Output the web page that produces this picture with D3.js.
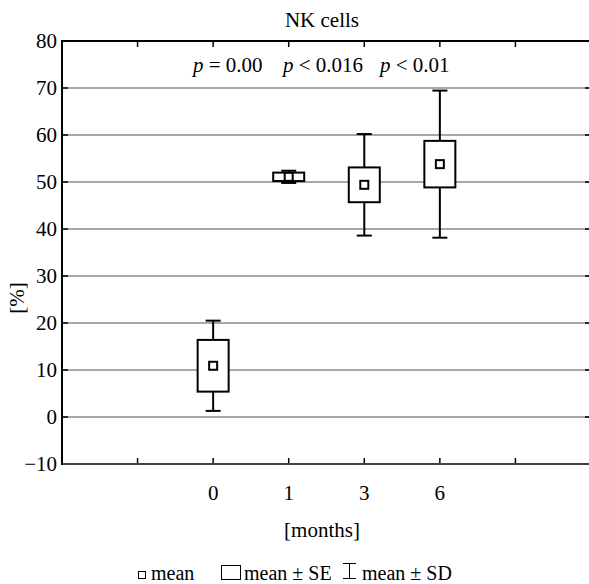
<!DOCTYPE html>
<html>
<head>
  <meta charset="UTF-8">
  <script src="https://d3js.org/d3.v7.min.js"></script>
  <style>
    body { margin: 0; background: #fff; }
    svg text { font-family: "Liberation Serif", "DejaVu Serif", serif; fill: #000; }
  </style>
</head>
<body>
  <svg id="chart" width="589" height="584"></svg>
<script>
  // data
  const months = ['0', '1', '3', '6'];
  const means = [10.9, 51.1, 49.4, 53.8];
  const se = [5.5, 0.9, 3.7, 4.95];
  const sd = [9.6, 1.3, 10.8, 15.65];
  const yTicks = [-10, 0, 10, 20, 30, 40, 50, 60, 70, 80];
  const pLabels = [
    { p: 'p', rest: ' = 0.00', x: 193 },
    { p: 'p', rest: ' < 0.016', x: 283 },
    { p: 'p', rest: ' < 0.01', x: 380 }
  ];

  const margin = { top: 41, right: -2, bottom: 120, left: 62 };
  const W = 589, H = 584;
  const fs = 21;

  const svg = d3.select('#chart');

  // x is a slot index: 7 slots, ticks at 1..6, boxes at 2..5
  const x = d3.scaleLinear().domain([0, 7]).range([margin.left, W - margin.right]);
  const y = d3.scaleLinear().domain([-10, 80]).range([H - margin.bottom, margin.top]);
  const slot = i => x(i + 2);

  // grid lines
  svg.append('g')
    .selectAll('line')
    .data(yTicks.filter(d => d > -10 && d < 80))
    .join('line')
    .attr('x1', x(0)).attr('x2', x(7))
    .attr('y1', d => y(d)).attr('y2', d => y(d))
    .attr('stroke', '#8a8a8a').attr('stroke-width', 1.3);

  // left/right tick marks
  const tickG = svg.append('g').attr('stroke', '#000').attr('stroke-width', 1.5);
  yTicks.forEach(t => {
    tickG.append('line').attr('x1', x(0)).attr('x2', x(0) + 6).attr('y1', y(t)).attr('y2', y(t));
    tickG.append('line').attr('x1', x(7) - 6).attr('x2', x(7)).attr('y1', y(t)).attr('y2', y(t));
  });
  // top / bottom tick marks
  d3.range(1, 7).forEach(i => {
    tickG.append('line').attr('x1', x(i)).attr('x2', x(i)).attr('y1', y(80)).attr('y2', y(80) + 6);
    tickG.append('line').attr('x1', x(i)).attr('x2', x(i)).attr('y1', y(-10)).attr('y2', y(-10) - 6);
  });

  // frame
  svg.append('line').attr('x1', x(0)).attr('x2', x(7)).attr('y1', y(80)).attr('y2', y(80))
    .attr('stroke', '#000').attr('stroke-width', 2);
  svg.append('line').attr('x1', x(0)).attr('x2', x(7)).attr('y1', y(-10)).attr('y2', y(-10))
    .attr('stroke', '#444').attr('stroke-width', 2.2);
  svg.append('line').attr('x1', x(0)).attr('x2', x(0)).attr('y1', y(80) - 1).attr('y2', y(-10) + 1)
    .attr('stroke', '#000').attr('stroke-width', 2);

  // y labels
  svg.append('g')
    .selectAll('text')
    .data(yTicks)
    .join('text')
    .attr('x', x(0) - 5)
    .attr('y', d => y(d))
    .attr('dy', '0.33em')
    .attr('text-anchor', 'end')
    .attr('font-size', fs)
    .text(d => d < 0 ? '\u2212' + Math.abs(d) : d);

  // x labels
  svg.append('g')
    .selectAll('text')
    .data(months)
    .join('text')
    .attr('x', (d, i) => slot(i))
    .attr('y', 500)
    .attr('text-anchor', 'middle')
    .attr('font-size', fs)
    .text(d => d);

  // titles
  svg.append('text').attr('x', 322).attr('y', 27).attr('text-anchor', 'middle')
    .attr('font-size', fs).text('NK cells');
  svg.append('text').attr('x', 322).attr('y', 537).attr('text-anchor', 'middle')
    .attr('font-size', fs).text('[months]');
  svg.append('text')
    .attr('transform', 'translate(24, 298) rotate(-90)')
    .attr('text-anchor', 'middle')
    .attr('font-size', fs).text('[%]');

  // p values
  const pt = svg.append('g').selectAll('text').data(pLabels).join('text')
    .attr('x', d => d.x).attr('y', 72).attr('font-size', fs);
  pt.append('tspan').attr('font-style', 'italic').text(d => d.p);
  pt.append('tspan').text(d => d.rest);

  // boxes
  const boxW = 31, capW = 15, meanS = 8;
  const g = svg.append('g').attr('stroke', '#000').attr('stroke-width', 2).attr('fill', '#fff');
  months.forEach((m, i) => {
    const cx = slot(i);
    // whiskers
    g.append('line').attr('x1', cx).attr('x2', cx)
      .attr('y1', y(means[i] + sd[i])).attr('y2', y(means[i] - sd[i]));
    g.append('line').attr('x1', cx - capW / 2).attr('x2', cx + capW / 2)
      .attr('y1', y(means[i] + sd[i])).attr('y2', y(means[i] + sd[i]));
    g.append('line').attr('x1', cx - capW / 2).attr('x2', cx + capW / 2)
      .attr('y1', y(means[i] - sd[i])).attr('y2', y(means[i] - sd[i]));
    // SE box
    g.append('rect').attr('x', cx - boxW / 2).attr('width', boxW)
      .attr('y', y(means[i] + se[i])).attr('height', y(means[i] - se[i]) - y(means[i] + se[i]));
    // mean marker
    g.append('rect').attr('x', cx - meanS / 2).attr('y', y(means[i]) - meanS / 2)
      .attr('width', meanS).attr('height', meanS);
  });

  // legend
  const lfs = 20;
  const lg = svg.append('g');
  lg.append('rect').attr('x', 138.5).attr('y', 571.5).attr('width', 7).attr('height', 7)
    .attr('fill', 'none').attr('stroke', '#000').attr('stroke-width', 1);
  lg.append('text').attr('x', 151).attr('y', 580).attr('font-size', lfs).text('mean');
  lg.append('rect').attr('x', 221.5).attr('y', 565.5).attr('width', 19).attr('height', 14)
    .attr('fill', 'none').attr('stroke', '#000').attr('stroke-width', 1);
  lg.append('text').attr('x', 244).attr('y', 580).attr('font-size', lfs).text('mean \u00b1 SE');
  const ib = lg.append('g').attr('stroke', '#000').attr('stroke-width', 1);
  ib.append('line').attr('x1', 349.5).attr('x2', 349.5).attr('y1', 563).attr('y2', 579);
  ib.append('line').attr('x1', 343).attr('x2', 356).attr('y1', 563.5).attr('y2', 563.5);
  ib.append('line').attr('x1', 343).attr('x2', 356).attr('y1', 578.5).attr('y2', 578.5);
  lg.append('text').attr('x', 362).attr('y', 580).attr('font-size', lfs).text('mean \u00b1 SD');
</script>
</body>
</html>
